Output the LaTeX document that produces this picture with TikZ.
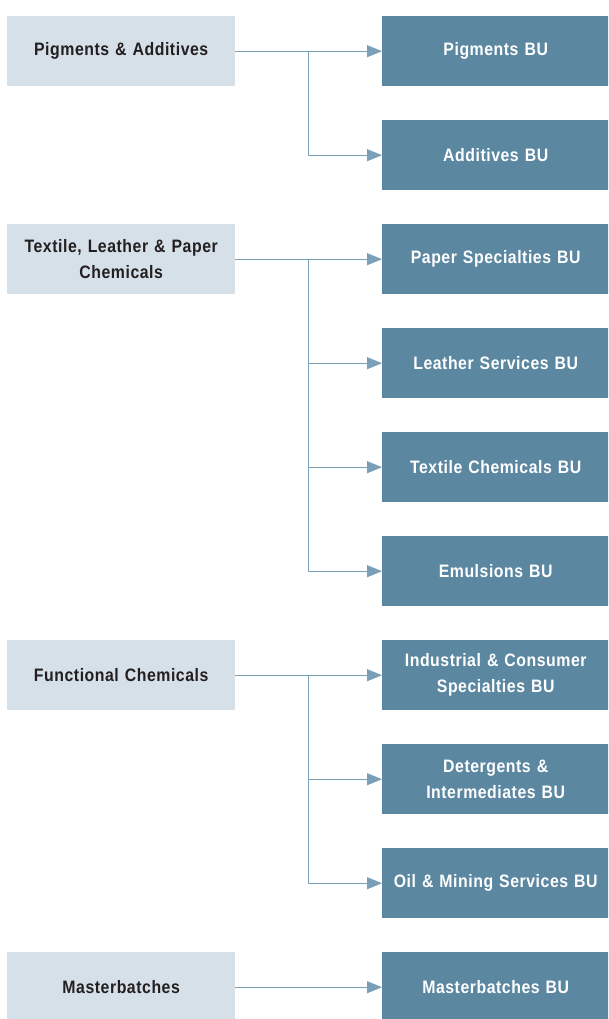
\documentclass[tikz,border=0pt]{standalone}
\usepackage{fontspec}
\setmainfont{Liberation Sans}[FakeStretch=0.88, LetterSpace=3]
\usetikzlibrary{arrows.meta}
\definecolor{leftfill}{HTML}{D6E0E9}
\definecolor{rightfill}{HTML}{5B87A1}
\definecolor{linecol}{HTML}{7A9FB6}
\definecolor{darktext}{HTML}{231F20}
\tikzset{
  base/.style={minimum height=70pt, inner sep=0pt, align=center, anchor=north west,
    font=\fontsize{18pt}{26pt}\selectfont\bfseries},
  group/.style={base, fill=leftfill, text=darktext, minimum width=228pt, text width=224pt},
  unit/.style={base, fill=rightfill, text=white, minimum width=227pt, text width=224pt},
  conn/.style={draw=linecol, line width=1.2pt},
  arr/.style={conn, -{Triangle[length=15pt, width=12pt]}}
}
\begin{document}
\begin{tikzpicture}[x=1pt, y=-1pt]
\useasboundingbox (0,0) rectangle (608,1019);
\begin{scope}
\clip (0,0) rectangle (608,1019);
% groups
\node[group] (g1) at (7,16) {Pigments \& Additives};
\node[group] (g2) at (7,224) {Textile, Leather \& Paper\\Chemicals};
\node[group] (g3) at (7,640) {Functional Chemicals};
\node[group] (g4) at (7,952) {Masterbatches};
% units
\node[unit] (u1) at (382,16) {Pigments BU};
\node[unit] (u2) at (382,120) {Additives BU};
\node[unit] (u3) at (382,224) {Paper Specialties BU};
\node[unit] (u4) at (382,328) {Leather Services BU};
\node[unit] (u5) at (382,432) {Textile Chemicals BU};
\node[unit] (u6) at (382,536) {Emulsions BU};
\node[unit] (u7) at (382,640) {Industrial \& Consumer\\Specialties BU};
\node[unit] (u8) at (382,744) {Detergents \&\\Intermediates BU};
\node[unit] (u9) at (382,848) {Oil \& Mining Services BU};
\node[unit] (u10) at (382,952) {Masterbatches BU};
\end{scope}
% junctions
\path (g1.east) ++(73,0) coordinate (j1);
\path (g2.east) ++(73,0) coordinate (j2);
\path (g3.east) ++(73,0) coordinate (j3);
% connectors
\draw[arr] (g1.east) -- (u1.west);
\draw[arr] (j1) |- (u2.west);
\draw[arr] (g2.east) -- (u3.west);
\draw[arr] (j2) |- (u4.west);
\draw[arr] (j2) |- (u5.west);
\draw[arr] (j2) |- (u6.west);
\draw[arr] (g3.east) -- (u7.west);
\draw[arr] (j3) |- (u8.west);
\draw[arr] (j3) |- (u9.west);
\draw[arr] (g4.east) -- (u10.west);
\end{tikzpicture}
\end{document}
